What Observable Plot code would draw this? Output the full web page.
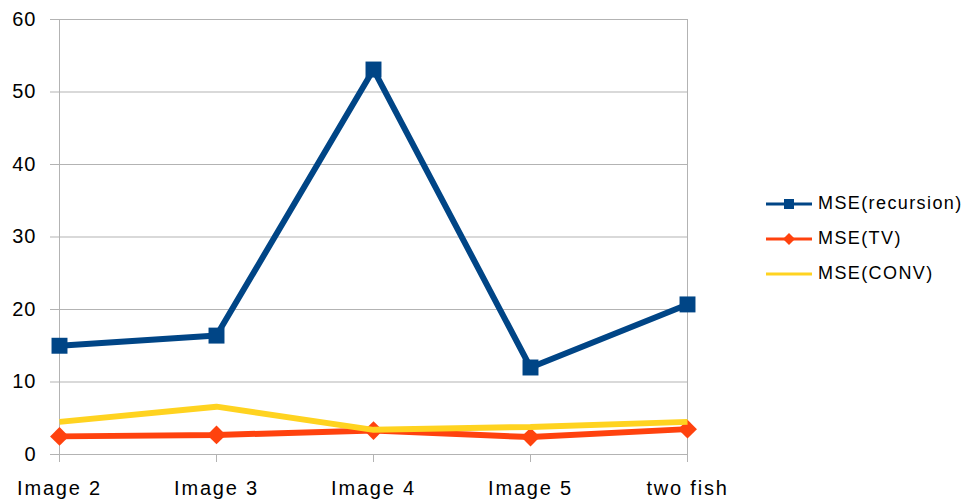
<!DOCTYPE html>
<html><head><meta charset="utf-8">
<script src="https://cdn.jsdelivr.net/npm/d3@7"></script>
<script src="https://cdn.jsdelivr.net/npm/@observablehq/plot@0.6"></script>
<style>
body{margin:0;background:#fff;font-family:"Liberation Sans",Arial,sans-serif}
#wrap{position:relative;width:967px;height:499px}
#legend{position:absolute;left:764px;top:186px;font-size:18px;color:#000;letter-spacing:1.4px}
.row{display:flex;align-items:center;height:35px;white-space:nowrap}
.row svg{display:block;margin-right:4px}
#chart g[aria-label="x-axis tick label"] text{letter-spacing:1.8px}
#chart g[aria-label="y-axis tick label"] text{letter-spacing:1px}
</style></head>
<body><div id="wrap"><div id="chart"></div><div id="legend"></div></div>
<script>
const categories = ["Image 2","Image 3","Image 4","Image 5","two fish"];
const series = ["MSE(recursion)","MSE(TV)","MSE(CONV)"];
const recursion = [15.0,16.4,53.1,12.0,20.7];
const tv = [2.5,2.7,3.3,2.4,3.5];
const conv = [4.5,6.6,3.4,3.8,4.5];
const yTicks = [0,10,20,30,40,50,60];
const colors = ["#004586","#ff420e","#ffd320"];
const symbols = ["square","diamond2",null];

const valuesBySeries = [recursion, tv, conv];
const data = series.map((s,i)=>categories.map((c,j)=>({series:s,cat:c,value:valuesBySeries[i][j]})));
const grid = "#b3b3b3";

const marks = [
  Plot.ruleY(yTicks,{stroke:grid, strokeWidth:1}),
  Plot.ruleX([categories[0], categories[categories.length-1]],{stroke:grid, strokeWidth:1}),
  Plot.axisY({ticks:yTicks, tickSize:8, tickPadding:14, stroke:grid, fill:"#000", label:null, fontSize:20}),
  Plot.axisX({tickSize:8, tickPadding:18, stroke:grid, fill:"#000", label:null, fontSize:20})
];
data.forEach((d,i)=>{
  marks.push(Plot.line(d,{x:"cat",y:"value",stroke:colors[i],strokeWidth:6,strokeLinejoin:"miter",strokeLinecap:"butt"}));
  if (symbols[i]) marks.push(Plot.dot(d,{x:"cat",y:"value",symbol:symbols[i],fill:colors[i],stroke:"none",r:i===0?9:8.5}));
});

const chart = Plot.plot({
  width:967, height:499,
  marginLeft:58, marginRight:280, marginTop:19, marginBottom:45,
  style:{fontFamily:'"Liberation Sans",Arial,sans-serif', fontSize:"20px", background:"#fff", color:"#000"},
  x:{type:"point", domain:categories, padding:0},
  y:{domain:[0,60]},
  marks
});
document.getElementById("chart").appendChild(chart);

const leg = d3.select("#legend");
series.forEach((s,i)=>{
  const row = leg.append("div").attr("class","row");
  const svg = row.append("svg").attr("width",50).attr("height",20);
  svg.append("line").attr("x1",2).attr("x2",48).attr("y1",10).attr("y2",10).attr("stroke",colors[i]).attr("stroke-width",3);
  if (symbols[i]==="square") svg.append("rect").attr("x",20).attr("y",5).attr("width",10).attr("height",10).attr("fill",colors[i]);
  if (symbols[i]==="diamond2") svg.append("path").attr("d","M25,4L31,10L25,16L19,10Z").attr("fill",colors[i]);
  row.append("span").text(s);
});
</script></body></html>
